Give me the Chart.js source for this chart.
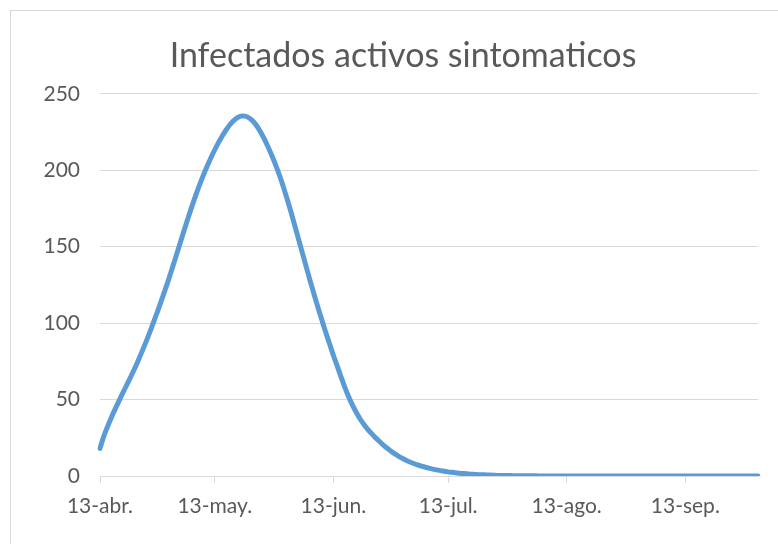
<!DOCTYPE html>
<html>
<head>
<meta charset="utf-8">
<script src="https://cdn.jsdelivr.net/npm/chart.js@4.4.1/dist/chart.umd.min.js"></script>
<style>
  html, body { margin: 0; padding: 0; background: #fff; overflow: hidden; }
  #frame {
    position: absolute; left: 10px; top: 10px;
    width: 820px; height: 600px;
    border: 1px solid #d9d9d9;
  }
  #wrap { position: absolute; left: 0; top: 0; width: 778px; height: 544px; }
</style>
</head>
<body>
<div id="frame"></div>
<div id="wrap"><canvas id="chart"></canvas></div>
<script>
  // chart data (one value per day from 13 april)
  const title = "Infectados activos sintomaticos";
  const startDay = 13;
  const startMonth = 3; // april, 0-based
  const monthAbbr = ["ene.", "feb.", "mar.", "abr.", "may.", "jun.", "jul.", "ago.", "sep.", "oct.", "nov.", "dic."];
  const tickLabels = ["13-abr.", "13-may.", "13-jun.", "13-jul.", "13-ago.", "13-sep."];
  const yTicks = [0, 50, 100, 150, 200, 250];

  const activos = [
    18, 26, 32.5, 38.5, 44, 49.3, 54.5, 59.6, 64.7, 70,
    75.6, 81.5, 87.6, 94, 100.6, 107.4, 114.4, 121.6, 129, 136.8,
    144.8, 152.8, 160.8, 168.6, 176.2, 183.4, 190.2, 196.6, 202.6, 208.2,
    213.4, 218.2, 222.6, 226.5, 229.9, 232.6, 234.5, 235.5, 235.4, 234.2,
    232, 228.9, 224.9, 220.2, 214.9, 209.1, 202.9, 196.1, 188.6, 180.5,
    172, 163, 154, 145, 136, 127, 118.5, 110, 102, 94,
    86.5, 79, 72, 64.8, 58, 51.8, 46.3, 41.5, 37.3, 33.7,
    30.5, 27.7, 25.1, 22.7, 20.4, 18.3, 16.4, 14.6, 13, 11.6,
    10.3, 9.2, 8.2, 7.3, 6.5, 5.8, 5.1, 4.5, 4, 3.5,
    3.1, 2.7, 2.4, 2.1, 1.8, 1.6, 1.4, 1.2, 1.05, 0.9,
    0.8, 0.7, 0.6, 0.5, 0.4, 0.4, 0.3, 0.3, 0.2, 0.2,
    0.2, 0.1, 0.1, 0.1, 0.1, 0, 0, 0, 0, 0,
    0, 0, 0, 0, 0, 0, 0, 0, 0, 0,
    0, 0, 0, 0, 0, 0, 0, 0, 0, 0,
    0, 0, 0, 0, 0, 0, 0, 0, 0, 0,
    0, 0, 0, 0, 0, 0, 0, 0, 0, 0,
    0, 0, 0, 0, 0, 0, 0, 0, 0, 0,
    0, 0, 0
  ];

  // one category per day
  const days = [];
  const d = new Date(2020, startMonth, startDay);
  for (let i = 0; i < activos.length; i++) {
    days.push(d.getDate() + "-" + monthAbbr[d.getMonth()]);
    d.setDate(d.getDate() + 1);
  }

  const textColor = "#595959";
  const gridColor = "#d9d9d9";
  const font = "Lato";

  // the original title sits a bit right of the canvas centre
  const shiftTitle = {
    id: "shiftTitle",
    beforeDraw(chart) {
      if (chart.titleBlock) chart.titleBlock.left = 48;
    },
  };

  new Chart(document.getElementById("chart"), {
    type: "line",
    data: {
      labels: days,
      datasets: [{
        label: title,
        data: activos,
        borderColor: "#5b9bd5",
        borderWidth: 5,
        pointRadius: 0,
        cubicInterpolationMode: "monotone",
        borderCapStyle: "round",
        borderJoinStyle: "round",
      }],
    },
    options: {
      responsive: true,
      maintainAspectRatio: false,
      animation: false,
      layout: { padding: { left: 0, right: 20, top: 0, bottom: 0 } },
      plugins: {
        legend: { display: false },
        tooltip: { enabled: false },
        title: {
          display: true,
          text: title,
          color: textColor,
          font: { family: font, size: 34, weight: "normal", lineHeight: 1.2 },
          padding: { top: 36, bottom: 17 },
        },
      },
      scales: {
        x: {
          offset: false,
          border: { color: gridColor, width: 1 },
          grid: { drawOnChartArea: false, color: gridColor, tickLength: 7 },
          ticks: {
            autoSkip: false,
            maxRotation: 0,
            minRotation: 0,
            color: textColor,
            font: { family: font, size: 21 },
            padding: 11,
            callback: function (value) {
              const lab = this.getLabelForValue(value);
              return tickLabels.includes(lab) ? lab : null;
            },
          },
          afterFit: (s) => { s.height = 68; },
        },
        y: {
          min: 0,
          max: 250,
          border: { display: false },
          grid: { color: gridColor, drawTicks: false },
          ticks: {
            stepSize: 50,
            color: textColor,
            font: { family: font, size: 21 },
            padding: 20,
          },
          afterBuildTicks: (s) => { s.ticks = yTicks.map((v) => ({ value: v })); },
          afterFit: (s) => { s.width = 100; },
        },
      },
    },
    plugins: [shiftTitle],
  });
</script>
</body>
</html>
